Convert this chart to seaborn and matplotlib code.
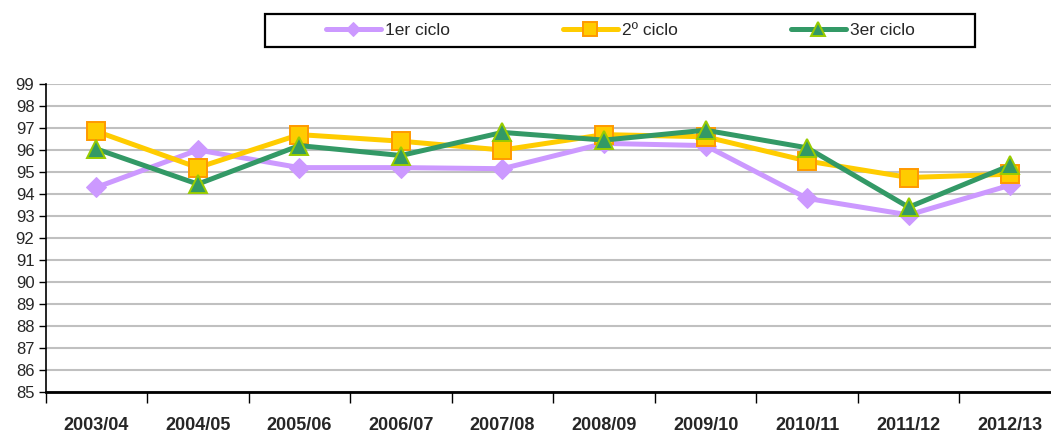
import numpy as np
import pandas as pd
import matplotlib
matplotlib.use("Agg")
import matplotlib.pyplot as plt
import seaborn as sns
from matplotlib.patches import Rectangle
from matplotlib.ticker import FixedLocator, NullFormatter

cursos = ['2003/04', '2004/05', '2005/06', '2006/07', '2007/08',
          '2008/09', '2009/10', '2010/11', '2011/12', '2012/13']
ciclo1 = [94.3, 96.0, 95.2, 95.2, 95.15, 96.3, 96.2, 93.8, 93.05, 94.4]
ciclo2 = [96.85, 95.2, 96.7, 96.4, 96.0, 96.7, 96.6, 95.5, 94.75, 94.9]
ciclo3 = [96.05, 94.45, 96.2, 95.75, 96.8, 96.45, 96.9, 96.1, 93.4, 95.3]
series_names = ['1er ciclo', '2º ciclo', '3er ciclo']

sns.set_theme(style="white")
plt.rcParams['font.family'] = ['Liberation Sans', 'DejaVu Sans']

W, H = 1051, 433
fig = plt.figure(figsize=(W / 100, H / 100), dpi=100)
ax = fig.add_axes([45.5 / W, 1 - 392 / H, (1061 - 45.5) / W, (392 - 84) / H])

x = np.arange(len(cursos))
estilos = [
    dict(color='#CC99FF', marker='D', markersize=10, markerfacecolor='#CC99FF', markeredgecolor='#CC99FF'),
    dict(color='#FFCC00', marker='s', markersize=12.5, markerfacecolor='#FFCC00', markeredgecolor='#FF9900', markeredgewidth=1.4),
    dict(color='#339966', marker='^', markersize=12.5, markerfacecolor='#339966', markeredgecolor='#99CC00', markeredgewidth=1.4),
]
for nombre, valores, est in zip(series_names, [ciclo1, ciclo2, ciclo3], estilos):
    sns.lineplot(x=x, y=valores, ax=ax, linewidth=3.6, label=nombre, **est)

ax.set_xlim(-0.5, len(cursos) - 0.5)
ax.set_ylim(85, 99)
ax.set_yticks(np.arange(85, 100, 1))
ax.yaxis.grid(True, color='#C0C0C0', linewidth=1.5)
ax.xaxis.grid(False)
ax.set_axisbelow(True)

# marcas entre categorias, etiquetas en el centro
ax.xaxis.set_major_locator(FixedLocator(np.arange(-0.5, len(cursos), 1)))
ax.xaxis.set_major_formatter(NullFormatter())
ax.xaxis.set_minor_locator(FixedLocator(x))
ax.set_xticklabels(cursos, minor=True, fontsize=13, fontweight='bold')
ax.tick_params(axis='x', which='major', length=8, width=1, color='black', direction='out', bottom=True)
ax.tick_params(axis='x', which='minor', length=0, pad=18)
ax.tick_params(axis='y', length=5, width=1, color='black', direction='out', left=True, labelsize=12, pad=3)

for s in ['top', 'right']:
    ax.spines[s].set_visible(False)
ax.spines['left'].set_color('black')
ax.spines['left'].set_linewidth(1.2)
ax.spines['bottom'].set_color('black')
ax.spines['bottom'].set_linewidth(2)
ax.set_xlabel('')
ax.set_ylabel('')

handles, labels = ax.get_legend_handles_labels()
ax.get_legend().remove()

# caja de la leyenda
fig.patches.append(Rectangle((265 / W, 1 - 47 / H), 710 / W, 33 / H, transform=fig.transFigure,
                             fill=False, edgecolor='black', linewidth=1.6))
fs = 12.5
em = fs * 100 / 72
fig.legend(handles, labels, ncol=3, loc='center',
           bbox_to_anchor=(620 / W, 1 - 30.5 / H), fontsize=fs, frameon=False,
           handlelength=55 / em, handletextpad=4 / em, columnspacing=113 / em, borderpad=0,
           markerscale=0.75)

fig.savefig('out.png', dpi=100)
